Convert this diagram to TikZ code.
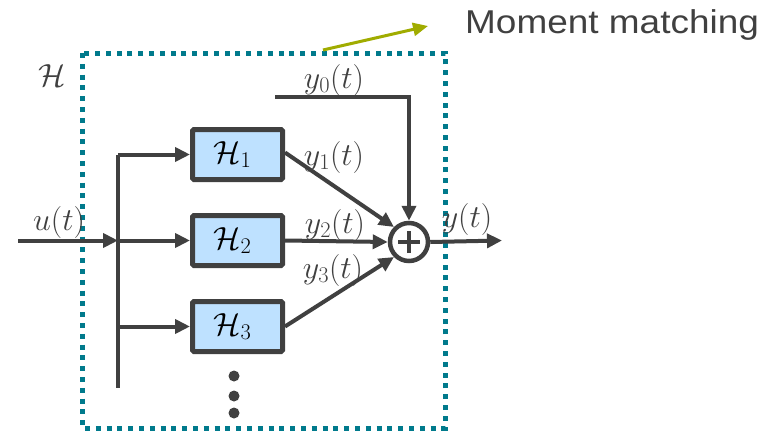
\RequirePackage{fix-cm}
\documentclass[tikz,border=0pt]{standalone}
\usepackage{fontspec}
\usepackage{graphicx}
\newfontfamily\labelfont{Liberation Sans}
\usetikzlibrary{arrows.meta}
\definecolor{dk}{RGB}{64,64,64}
\definecolor{teal}{RGB}{0,122,140}
\definecolor{olive}{RGB}{160,172,0}
\definecolor{boxblue}{RGB}{190,225,255}
\begin{document}
\begin{tikzpicture}[x=1pt,y=-1pt,
  font=\fontsize{32}{38}\selectfont,
  conn/.style={draw=dk,line width=4pt},
  arr/.style={conn,-{Triangle[length=15pt,width=14pt]}},
  hbox/.style={draw=dk,line width=5pt,fill=boxblue,rounded corners=1.5pt,minimum width=90pt,minimum height=50pt,inner sep=0pt},
  lbl/.style={text=dk,inner sep=0pt},
  ddot/.style={circle,fill=dk,minimum size=11pt,inner sep=0pt}]
\useasboundingbox (0,0) rectangle (773,431);
% dotted frame
\draw[teal,line width=5pt,dash pattern=on 5pt off 5.8pt] (82,53) rectangle (445,428);
\node[lbl] (Hlab) at (52,76) {$\mathcal{H}$};
% moment matching
\coordinate (mstart) at (323,50);
\coordinate (mend) at (428,26);
\draw[olive,line width=3pt,-{Triangle[length=15pt,width=13pt]}] (mstart) -- (mend);
\node[lbl,anchor=west,font=\labelfont\fontsize{33}{38}\selectfont] (mm) at (465,25) {\scalebox{1.12}[1]{Moment matching}};
% blocks
\node[hbox] (H1) at (237.5,154.5) {$\mathcal{H}_1$\hspace*{10pt}};
\node[hbox] (H2) at (237.5,240.5) {$\mathcal{H}_2$\hspace*{10pt}};
\node[hbox] (H3) at (237.5,326.5) {$\mathcal{H}_3$\hspace*{10pt}};
% sum
\node[draw=dk,line width=4.5pt,circle,minimum size=38pt,inner sep=0pt] (S) at (409,242) {};
\draw[dk,line width=4.5pt] ([xshift=-11pt]S.center) -- ([xshift=11pt]S.center);
\draw[dk,line width=4.5pt] ([yshift=-11pt]S.center) -- ([yshift=11pt]S.center);
% input
\coordinate (in) at (18,240.5);
\coordinate (bj) at (118,240.5);
\coordinate (btop) at (118,154.5);
\coordinate (bbot) at (118,388);
\coordinate (b3) at (118,326.5);
\draw[arr] (in) -- (bj);
\draw[conn] (btop) -- (bbot);
\draw[arr] (btop) -- (H1.west);
\draw[arr] (bj) -- (H2.west);
\draw[arr] (b3) -- (H3.west);
\node[lbl] (ul) at (59,222) {$u(t)$};
% outputs
\coordinate (y0s) at (275,97);
\coordinate (y0c) at (409,97);
\draw[conn,-{Triangle[length=15pt,width=14pt]}] (y0s) -- (y0c) -- (S.north);
\draw[arr] ([yshift=2pt]H1.east) -- (S.north west);
\draw[arr] (H2.east) -- (S.west);
\draw[arr] (H3.east) -- (S.south west);
\node[lbl] (y0l) at (334,80) {$y_0(t)$};
\node[lbl] (y1l) at (334,157) {$y_1(t)$};
\node[lbl] (y2l) at (335,225) {$y_2(t)$};
\node[lbl] (y3l) at (333,270) {$y_3(t)$};
\coordinate (out) at (502,240.5);
\draw[arr] (S.east) -- (out);
\node[lbl] (yl) at (467,219) {$y(t)$};
% dots
\node[ddot] (d1) at (234,376) {};
\node[ddot] (d2) at (234,396) {};
\node[ddot] (d3) at (234,413) {};
\end{tikzpicture}
\end{document}
